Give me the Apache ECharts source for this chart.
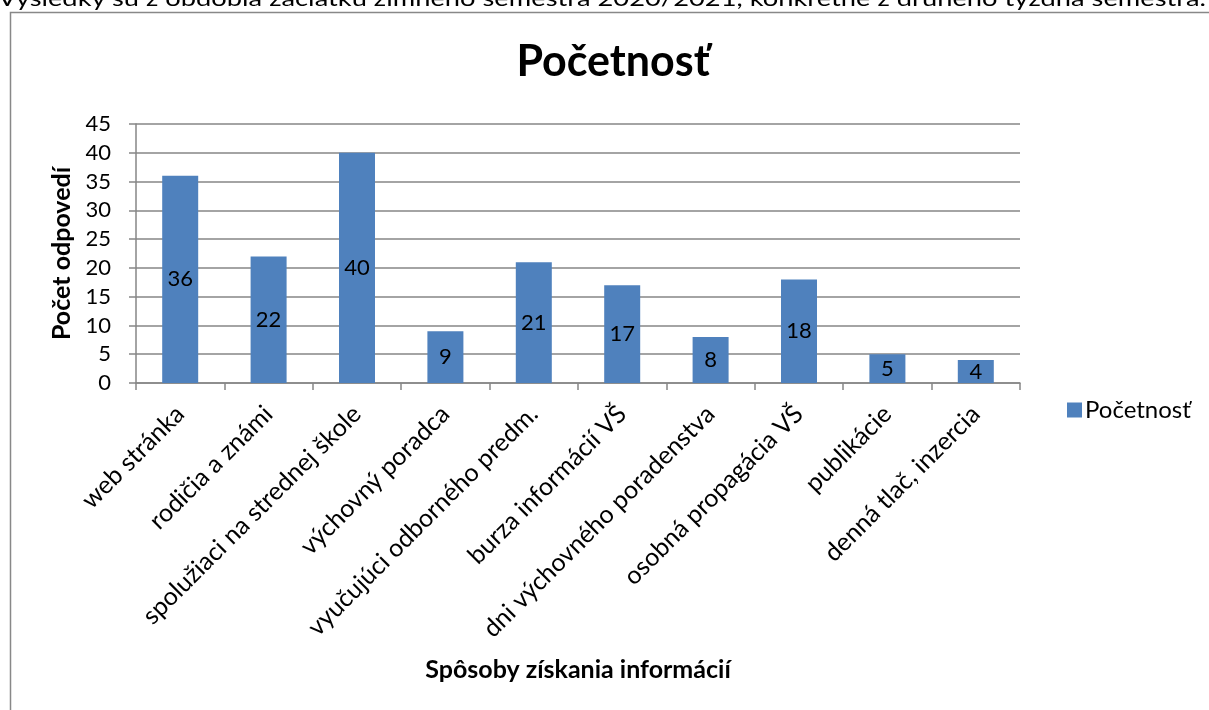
<!DOCTYPE html>
<html>
<head>
<meta charset="utf-8">
<script src="https://cdn.jsdelivr.net/npm/echarts@6/dist/echarts.min.js"></script>
<style>
html,body{margin:0;padding:0;background:#fff;overflow:hidden;}
#top{position:absolute;left:-2px;top:-15px;white-space:nowrap;font-family:Lato,"Open Sans",sans-serif;font-size:21px;color:#000;transform-origin:0 0;}
#chart{position:absolute;left:0;top:0;width:1209px;height:710px;}
</style>
</head>
<body>
<div id="chart"></div>
<div id="top">Výsledky sú z obdobia začiatku zimného semestra 2020/2021, konkrétne z druhého týždňa semestra.</div>
<script>
const categories = ["web stránka","rodičia a známi","spolužiaci na strednej škole","výchovný poradca","vyučujúci odborného predm.","burza informácií VŠ","dni výchovného poradenstva","osobná propagácia VŠ","publikácie","denná tlač, inzercia"];
const values = [36,22,40,9,21,17,8,18,5,4];
const seriesName = "Početnosť";
const chartTitle = "Početnosť";
const yAxisName = "Počet odpovedí";
const xAxisName = "Spôsoby získania informácií";

const FONT = 'Lato, "Open Sans", sans-serif';
const chart = echarts.init(document.getElementById('chart'), null, {renderer:'canvas'});
chart.setOption({
  animation:false,
  backgroundColor:'#fff',
  textStyle:{fontFamily:FONT},
  title:{text:chartTitle,left:608,top:36,textAlign:'center',textStyle:{fontFamily:FONT,fontSize:43,fontWeight:'bold',color:'#000'}},
  legend:{left:1062,top:393,itemWidth:15,itemHeight:15,itemGap:6,icon:'rect',textStyle:{fontFamily:FONT,fontSize:24,color:'#000',padding:[0,0,0,-2]},data:[seriesName]},
  graphic:[{type:'rect',shape:{x:10.5,y:12.5,width:1300,height:800},style:{fill:'none',stroke:'#888',lineWidth:1.5},silent:true,z:-1}],
  grid:{left:136,right:189,top:124,bottom:327,containLabel:false},
  xAxis:{type:'category',data:categories,
    axisLine:{lineStyle:{color:'#868686',width:1.5}},
    axisTick:{show:true,alignWithLabel:false,length:7,lineStyle:{color:'#868686',width:1.5}},
    axisLabel:{rotate:45,interval:0,fontFamily:FONT,fontSize:25,color:'#000',margin:27,padding:[10,0,0,0]},
    name:xAxisName,nameLocation:'middle',nameGap:274,
    nameTextStyle:{fontFamily:FONT,fontSize:25,fontWeight:'bold',color:'#000'}},
  yAxis:{type:'value',min:0,max:45,interval:5,
    axisLine:{show:true,lineStyle:{color:'#868686',width:1.5}},
    axisTick:{show:true,length:7,lineStyle:{color:'#868686',width:1.5}},
    splitLine:{lineStyle:{color:'#868686',width:1.5}},
    axisLabel:{fontFamily:FONT,fontSize:22,color:'#000',margin:25},
    name:yAxisName,nameLocation:'middle',nameGap:61,nameRotate:90,
    nameTextStyle:{fontFamily:FONT,fontSize:25,fontWeight:'bold',color:'#000'}},
  series:[{name:seriesName,type:'bar',data:values,barWidth:36,
    itemStyle:{color:'#4F81BD'},
    label:{show:true,position:'inside',fontFamily:FONT,fontSize:22,color:'#000'}}]
});
const t=document.getElementById('top');
const w=t.getBoundingClientRect().width;
t.style.transform='scaleX('+(1208/w)+')';
</script>
</body>
</html>
